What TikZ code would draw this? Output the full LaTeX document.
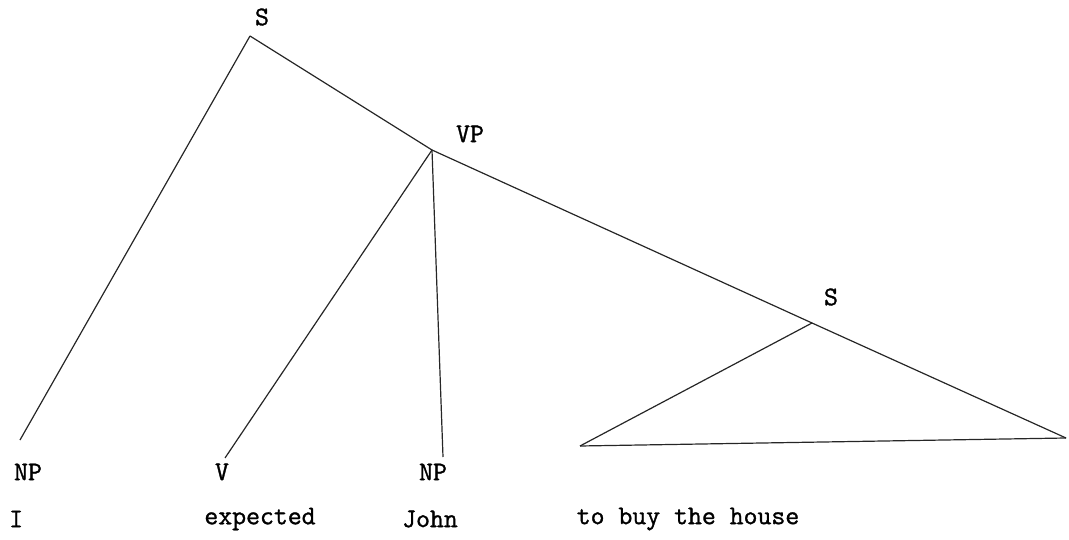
\documentclass[tikz,border=0pt]{standalone}
\usepackage{fontspec}
\newfontfamily\typewriter[FakeBold=1.2]{Latin Modern Mono}
\usetikzlibrary{positioning}

\begin{document}
\begin{tikzpicture}[
    x=1pt, y=-1pt,
    font=\typewriter\fontsize{27}{30}\selectfont,
    cat/.style={inner sep=0pt},
    word/.style={inner sep=0pt},
    branch/.style={line width=1.2pt, draw=black!85}
  ]
    \useasboundingbox (0,0) rectangle (1069,540);

    % branching points
    \coordinate (s) at (250,36);
    \coordinate (vp) at (432,150);
    \coordinate (slow) at (812,323);
    \coordinate (npi) at (20,440);
    \coordinate (v) at (225,458);
    \coordinate (npjohn) at (443,457);
    \coordinate (triwest) at (580,446);
    \coordinate (trieast) at (1066,438);

    % category labels
    \node[cat] (slabel) at (262,17) {S};
    \node[cat] (vplabel) at (470,134) {VP};
    \node[cat] (slowlabel) at (831,297) {S};
    \node[cat] (npilabel) at (28,472) {NP};
    \node[cat] (vlabel) at (222,472) {V};
    \node[cat] (npjohnlabel) at (433,472) {NP};

    % words
    \node[word, anchor=west] (wi) at (9,519) {I};
    \node[word] (wexpected) at (260,519) {expected};
    \node[word] (wjohn) at (430,519) {John};
    \node[word] (whouse) at (688,519) {to buy the house};

    \draw[branch] (s) -- (npi);
    \draw[branch] (s) -- (vp);
    \draw[branch] (vp) -- (v);
    \draw[branch] (vp) -- (npjohn);
    \draw[branch] (vp) -- (slow);
    \draw[branch] (slow) -- (trieast);
    \draw[branch] (slow) -- (triwest);
    \draw[branch] (triwest) -- (trieast);
  \end{tikzpicture}
\end{document}
